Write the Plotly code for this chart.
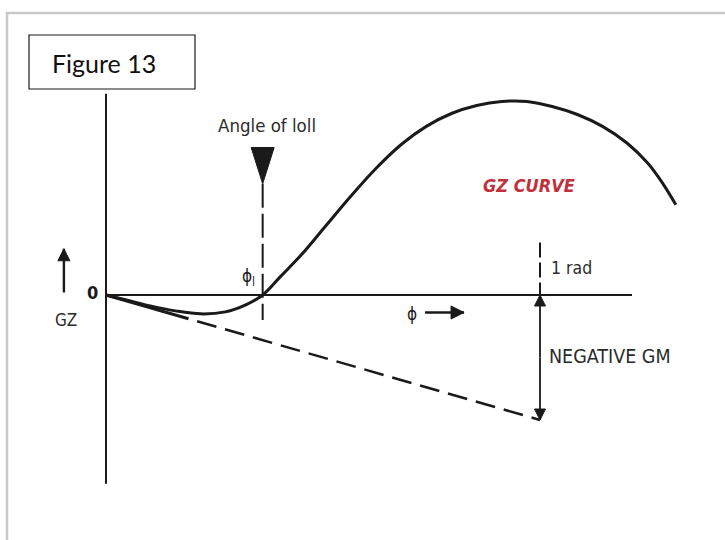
import plotly.graph_objects as go

# GZ curve for a ship with negative GM (phi in rad, GZ in units of |GM|)
phi = [0.0, 0.056, 0.102, 0.160, 0.218, 0.275, 0.322, 0.361, 0.403, 0.449, 0.507,
       0.565, 0.623, 0.681, 0.738, 0.796, 0.854, 0.912, 0.970, 1.028, 1.086,
       1.144, 1.201, 1.248, 1.282, 1.313]
gz = [0.0, -0.048, -0.087, -0.127, -0.151, -0.135, -0.079, 0.0, 0.151, 0.317, 0.556,
      0.794, 1.016, 1.206, 1.349, 1.452, 1.516, 1.548, 1.548, 1.508, 1.444,
      1.349, 1.214, 1.056, 0.897, 0.722]

# initial slope line (GZ = GM * phi, GM negative)
gm_phi = [0.0, 0.19, 0.21, 1.0]
gm_gz = [0.0, -0.19, -0.21, -1.0]

phi_loll = 0.361
one_rad = 1.0
neg_gm = -1.0

# axis extents
x_axis = [0.0, 1.212]
y_axis = [1.61, -1.51]

W, H = 725, 540
x0_px, rad_px = 106, 434     # origin and 1 rad in pixels
y0_px, unit_px = 295, 125    # origin and |GM| in pixels
x_range = [-x0_px / rad_px, (W - x0_px) / rad_px]
y_range = [(y0_px - H) / unit_px, y0_px / unit_px]

ink = '#1a1a1a'
txt = '#2b2b2b'
narrow = 'Liberation Sans Narrow, DejaVu Sans Condensed, Arial Narrow, sans-serif'

fig = go.Figure()

# axes
fig.add_trace(go.Scatter(x=x_axis, y=[0, 0], mode='lines', line=dict(color=ink, width=2)))
fig.add_trace(go.Scatter(x=[0, 0], y=y_axis, mode='lines', line=dict(color=ink, width=2)))

# negative GM line (solid near origin, then dashed)
fig.add_trace(go.Scatter(x=gm_phi[:2], y=gm_gz[:2], mode='lines', line=dict(color=ink, width=3)))
fig.add_trace(go.Scatter(x=gm_phi[2:], y=gm_gz[2:], mode='lines',
                         line=dict(color=ink, width=2.5, dash='20px,9px')))

# GZ curve
fig.add_trace(go.Scatter(x=phi, y=gz, mode='lines', line=dict(color=ink, width=3, shape='spline')))

# angle of loll dashed marker + triangle
fig.add_trace(go.Scatter(x=[phi_loll, phi_loll], y=[0.89, -0.2], mode='lines',
                         line=dict(color=ink, width=2, dash='24px,6px')))
hw = 11.5 / rad_px
fig.add_trace(go.Scatter(x=[phi_loll - hw, phi_loll + hw, phi_loll, phi_loll - hw],
                         y=[1.18, 1.18, 0.89, 1.18], mode='lines', fill='toself',
                         fillcolor=ink, line=dict(color=ink, width=1)))

# 1 rad dashed marker
fig.add_trace(go.Scatter(x=[one_rad, one_rad], y=[0.42, 0.0], mode='lines',
                         line=dict(color=ink, width=2, dash='15px,5px')))

# arrows: a line plus an arrow-head marker whose tip sits on the end point
def arrow(x, y, symbol, w=1.8, head=12):
    fig.add_trace(go.Scatter(x=x, y=y, mode='lines', line=dict(color=ink, width=w)))
    fig.add_trace(go.Scatter(x=[x[-1]], y=[y[-1]], mode='markers',
                             marker=dict(symbol=symbol, size=head, color=ink,
                                         line=dict(color=ink, width=1))))

arrow([one_rad, one_rad], [-0.5, 0.0], 'arrow-up', 1.8, 11)
arrow([one_rad, one_rad], [-0.5, neg_gm], 'arrow-down', 1.8, 11)
arrow([-0.097, -0.097], [0.02, 0.37], 'arrow-up', 2.4, 12)
arrow([0.735, 0.825], [-0.14, -0.14], 'arrow-right', 2.6, 13)

# labels
def label(x, y, text, size=18, color=txt, family=narrow, xanchor='center'):
    fig.add_annotation(x=x, y=y, xref='x', yref='y', text=text, showarrow=False,
                       xanchor=xanchor, yanchor='middle',
                       font=dict(family=family, size=size, color=color))

label(0.370, 1.36, 'Angle of loll', 18.5)
label(0.329, 0.14, 'ϕ<sub>l</sub>', 17, ink)
label(1.02, 0.22, '1 rad', 17.5, xanchor='left')
label(1.015, -0.49, 'NEGATIVE GM', 19.5, xanchor='left')
label(0.706, -0.15, 'ϕ', 17, ink)
label(-0.032, 0.02, '<b>0</b>', 18, ink)
label(-0.093, -0.2, 'GZ', 17)
label(0.975, 0.88, '<b><i>GZ CURVE</i></b>', 18, '#c0313c')

# outer frame and "Figure 13" box
fig.add_shape(type='rect', xref='paper', yref='paper', x0=7 / W, x1=740 / W,
              y0=1 - 550 / H, y1=1 - 13 / H, line=dict(color='#c9c9c9', width=2.5))
fig.add_shape(type='rect', xref='paper', yref='paper', x0=29 / W, x1=195 / W,
              y0=1 - 89 / H, y1=1 - 35 / H, line=dict(color=ink, width=1.2),
              fillcolor='white')
fig.add_annotation(x=104 / W, y=1 - 63 / H, xref='paper', yref='paper', text='Figure 13',
                   showarrow=False, xanchor='center', yanchor='middle',
                   font=dict(family='Lato, Open Sans, sans-serif', size=25, color='#111'))

fig.update_layout(
    width=W, height=H,
    margin=dict(l=0, r=0, t=0, b=0),
    plot_bgcolor='white', paper_bgcolor='white',
    showlegend=False,
)
fig.update_xaxes(range=x_range, visible=False, fixedrange=True)
fig.update_yaxes(range=y_range, visible=False, fixedrange=True)

fig.write_html("out.html", config={'displayModeBar': False},
               post_script="document.body.style.margin='0px';")
